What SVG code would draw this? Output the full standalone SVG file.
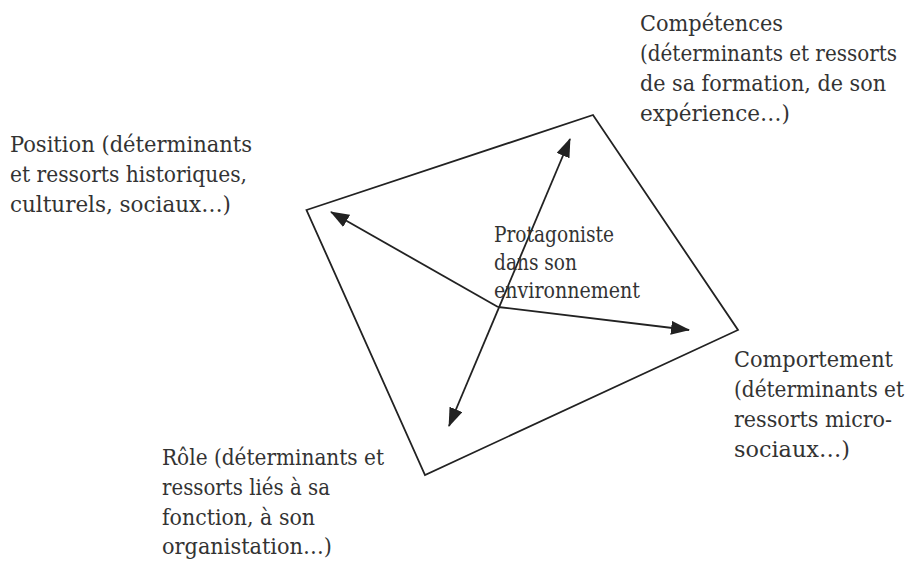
<svg xmlns="http://www.w3.org/2000/svg" width="912" height="561" viewBox="0 0 912 561">
<style>
  text { font-family: 'DejaVu Serif Condensed', 'DejaVu Serif', serif; font-stretch: condensed; fill: #333; }
  .lbl { font-size: 23px; }
  .ctr { font-size: 21.5px; }
  .edge { stroke: #222; stroke-width: 1.8; fill: none; }
</style>
<defs>
  <marker id="ah" viewBox="0 0 19 14" refX="18" refY="7" markerWidth="19" markerHeight="14" markerUnits="userSpaceOnUse" orient="auto-start-reverse">
    <path d="M0,0 L19,7 L0,14 z" fill="#222"/>
  </marker>
</defs>
<rect width="912" height="561" fill="#fff"/>
<g id="frame">
  <polygon points="306.5,210 593,115 738,330 425,475" fill="none" stroke="#222" stroke-width="1.8"/>
</g>
<g id="connectors">
  <line class="edge" x1="498" y1="307" x2="331" y2="212" marker-end="url(#ah)"/>
  <line class="edge" x1="498" y1="307" x2="689" y2="330" marker-end="url(#ah)"/>
  <line class="edge" x1="449" y1="426" x2="570" y2="139" marker-start="url(#ah)" marker-end="url(#ah)"/>
</g>
<g id="protagoniste">
  <text class="ctr" x="494" y="242" textLength="120" lengthAdjust="spacingAndGlyphs">Protagoniste</text>
  <text class="ctr" x="494" y="270" textLength="83" lengthAdjust="spacingAndGlyphs">dans son</text>
  <text class="ctr" x="494" y="298" textLength="146" lengthAdjust="spacingAndGlyphs">environnement</text>
</g>
<g id="competences">
  <text class="lbl" x="640" y="31" textLength="143" lengthAdjust="spacingAndGlyphs">Compétences</text>
  <text class="lbl" x="640" y="61" textLength="257" lengthAdjust="spacingAndGlyphs">(déterminants et ressorts</text>
  <text class="lbl" x="640" y="91" textLength="246" lengthAdjust="spacingAndGlyphs">de sa formation, de son</text>
  <text class="lbl" x="640" y="121" textLength="150" lengthAdjust="spacingAndGlyphs">expérience…)</text>
</g>
<g id="position">
  <text class="lbl" x="10" y="152" textLength="242" lengthAdjust="spacingAndGlyphs">Position (déterminants</text>
  <text class="lbl" x="10" y="182" textLength="237" lengthAdjust="spacingAndGlyphs">et ressorts historiques,</text>
  <text class="lbl" x="10" y="212" textLength="221" lengthAdjust="spacingAndGlyphs">culturels, sociaux…)</text>
</g>
<g id="comportement">
  <text class="lbl" x="734" y="367" textLength="159" lengthAdjust="spacingAndGlyphs">Comportement</text>
  <text class="lbl" x="734" y="397" textLength="170" lengthAdjust="spacingAndGlyphs">(déterminants et</text>
  <text class="lbl" x="734" y="427" textLength="158" lengthAdjust="spacingAndGlyphs">ressorts micro-</text>
  <text class="lbl" x="734" y="457" textLength="116" lengthAdjust="spacingAndGlyphs">sociaux…)</text>
</g>
<g id="role">
  <text class="lbl" x="162" y="465" textLength="222" lengthAdjust="spacingAndGlyphs">Rôle (déterminants et</text>
  <text class="lbl" x="162" y="495" textLength="168" lengthAdjust="spacingAndGlyphs">ressorts liés à sa</text>
  <text class="lbl" x="162" y="525" textLength="153" lengthAdjust="spacingAndGlyphs">fonction, à son</text>
  <text class="lbl" x="162" y="554" textLength="170" lengthAdjust="spacingAndGlyphs">organistation…)</text>
</g>
</svg>
